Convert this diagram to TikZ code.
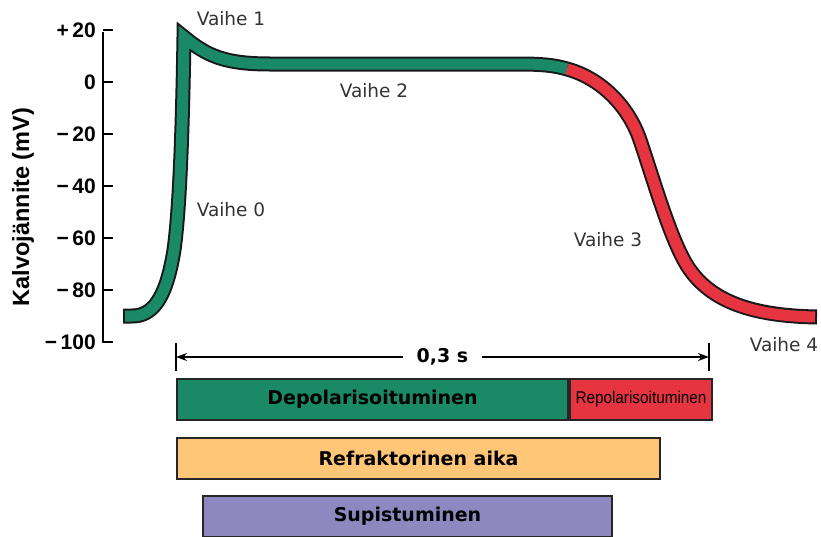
\documentclass[tikz,border=0pt]{standalone}
\usepackage{fontspec}
\setmainfont{DejaVu Sans}
\newfontfamily\arialfont{Liberation Sans}
\usetikzlibrary{arrows.meta,positioning,calc}
\definecolor{depgreen}{RGB}{26,137,102}
\definecolor{repred}{RGB}{230,52,64}
\definecolor{refrorange}{RGB}{255,198,120}
\definecolor{supipurple}{RGB}{142,136,192}

\begin{document}
\begin{tikzpicture}[
    x=1pt, y=-1pt,
    tick/.style={anchor=east, inner sep=0pt, font=\arialfont\bfseries\fontsize{21}{21}\selectfont},
    phase/.style={text=black!80, font=\fontsize{18.5}{20}\selectfont},
    bar/.style={draw=black!85, line width=2pt, minimum height=41pt, inner sep=0pt, anchor=north west, font=\bfseries\fontsize{19}{20}\selectfont},
    outline/.style={draw=black!90, line width=15pt, line join=miter, miter limit=10},
    fillband/.style={line width=11pt, line join=miter, miter limit=10}
]
    \useasboundingbox (0,0) rectangle (821,536);

    % Voltage axis
    \draw[line width=1.5pt] (103,32) -- (103,343);
    \foreach \v/\txt in {20/{+\,20}, 0/0, -20/{−\,20}, -40/{−\,40}, -60/{−\,60}, -80/{−\,80}, -100/{−\,100}} {
        \draw[line width=1.5pt] (103,82-2.6*\v) -- ++(10,0);
        \node[tick] at (96,82-2.6*\v) {\txt};
    }
    \node[rotate=90, font=\arialfont\bfseries\fontsize{23.5}{24}\selectfont] (ylabel) at (23,207) {Kalvojännite (mV)};

    % Action potential curve
    \coordinate (rest) at (123,316);
    \coordinate (upstroke) at (174,250);
    \coordinate (peak) at (184,37);
    \coordinate (plat) at (270,64);
    \coordinate (platend) at (520,64);
    \coordinate (split) at (567,69);
    \coordinate (fall) at (640,140);
    \coordinate (knee) at (690,270);
    \coordinate (tail) at (817,317);

    \draw[outline] (rest) -- ++(9,0) .. controls +(20,0) and +(-8,50) .. (upstroke)
        .. controls +(7,-50) and +(-1,60) .. (peak)
        .. controls +(23,19) and +(-45,0) .. (plat) -- (platend)
        .. controls +(25,0) and +(-10,-3) .. (split)
        .. controls +(33,9) and +(-12,-35) .. (fall)
        .. controls +(14,41) and +(-18,-25) .. (knee)
        .. controls +(25,35) and +(-57,-1) .. (tail);
    \draw[fillband, depgreen, shorten <=2pt] (rest) -- ++(9,0) .. controls +(20,0) and +(-8,50) .. (upstroke)
        .. controls +(7,-50) and +(-1,60) .. (peak)
        .. controls +(23,19) and +(-45,0) .. (plat) -- (platend)
        .. controls +(25,0) and +(-10,-3) .. (split);
    \draw[fillband, repred, shorten >=2pt] (split)
        .. controls +(33,9) and +(-12,-35) .. (fall)
        .. controls +(14,41) and +(-18,-25) .. (knee)
        .. controls +(25,35) and +(-57,-1) .. (tail);

    % Phase labels
    \node[phase] (ph1) at (231,19) {Vaihe 1};
    \node[phase] (ph0) at (231,210) {Vaihe 0};
    \node[phase] (ph2) at (374,91) {Vaihe 2};
    \node[phase] (ph3) at (608,240) {Vaihe 3};
    \node[phase] (ph4) at (784,345) {Vaihe 4};

    % Duration
    \coordinate (dimL) at (176,357);
    \coordinate (dimR) at (709,357);
    \node[fill=white, inner xsep=14pt, font=\bfseries\fontsize{19}{20}\selectfont] (dur) at ($(dimL)!0.5!(dimR)$) {0,3 s};
    \draw[line width=1.5pt] ([yshift=14pt]dimL) -- ([yshift=-14pt]dimL);
    \draw[line width=1.5pt] ([yshift=14pt]dimR) -- ([yshift=-14pt]dimR);
    \draw[line width=1.5pt, -{Stealth[length=11pt, width=8pt]}] (dur) -- (dimL);
    \draw[line width=1.5pt, -{Stealth[length=11pt, width=8pt]}] (dur) -- (dimR);

    % Bars
    \node[bar, fill=depgreen, minimum width=391pt] (depol) at (176,378) {Depolarisoituminen};
    \node[bar, fill=repred, minimum width=142pt, right=0pt of depol, font=\arialfont\fontsize{17}{17}\selectfont] (repol) {\scalebox{0.9}[1]{Repolarisoituminen}};
    \node[bar, fill=refrorange, minimum width=483pt] (refr) at (176,437) {Refraktorinen aika};
    \node[bar, fill=supipurple, minimum width=409pt] (supi) at (202,495) {Supistuminen};
\end{tikzpicture}
\end{document}
